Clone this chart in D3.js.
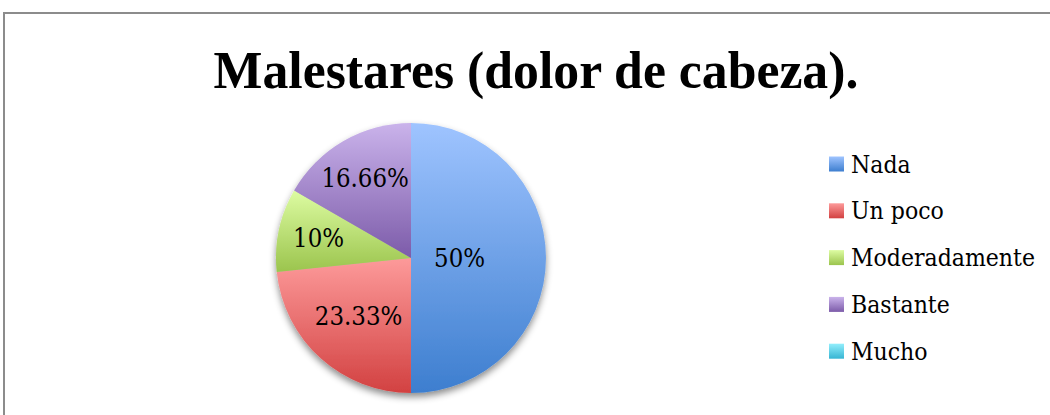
<!DOCTYPE html>
<html>
<head>
<meta charset="utf-8">
<script src="https://cdn.jsdelivr.net/npm/d3@7"></script>
<style>
  body { margin: 0; background: #fff; }
  svg { display: block; }
</style>
</head>
<body>
<svg id="chart"></svg>
<script>
const categories = ["Nada", "Un poco", "Moderadamente", "Bastante", "Mucho"];
const values = [50, 23.33, 10, 16.66, 0];
const labels = ["50%", "23.33%", "10%", "16.66%", "0%"];
const title = "Malestares (dolor de cabeza).";

// gradient top / bottom per slice
const colorTop = ["#9fc4ff", "#fd9a9a", "#ddfca2", "#cab3eb", "#92eefc"];
const colorBottom = ["#3d7ecf", "#d24141", "#9bc44d", "#7c5ba9", "#37b5d3"];

const svgWidth = 1050, svgHeight = 415;
const cx = 411, cy = 258, radius = 135;
// distance of each label from the centre, as a share of the radius
const labelPos = [0.36, 0.58, 0.70, 0.68, 0.6];

const svg = d3.select("#chart")
  .attr("width", svgWidth)
  .attr("height", svgHeight);

const defs = svg.append("defs");

categories.forEach((c, i) => {
  const g = defs.append("linearGradient")
    .attr("id", "grad" + i)
    .attr("x1", 0).attr("y1", 0)
    .attr("x2", 0).attr("y2", 1);
  g.append("stop").attr("offset", "0%").attr("stop-color", colorTop[i]);
  g.append("stop").attr("offset", "100%").attr("stop-color", colorBottom[i]);
});

const shadow = defs.append("filter")
  .attr("id", "shadow")
  .attr("x", "-20%").attr("y", "-20%")
  .attr("width", "140%").attr("height", "140%");
shadow.append("feDropShadow")
  .attr("dx", 0).attr("dy", 4)
  .attr("stdDeviation", 3.5)
  .attr("flood-color", "#000")
  .attr("flood-opacity", 0.45);

// chart frame
svg.append("rect")
  .attr("x", 4).attr("y", 13)
  .attr("width", svgWidth + 20)
  .attr("height", svgHeight + 20)
  .attr("fill", "none")
  .attr("stroke", "#8c8c8c")
  .attr("stroke-width", 2);

// fit a text element to a given width
function fitWidth(sel, target) {
  const w = sel.node().getComputedTextLength();
  const size = parseFloat(sel.style("font-size"));
  sel.style("font-size", (size * target / w) + "px");
}

// title
const titleText = svg.append("text")
  .attr("x", 536)
  .attr("y", 88)
  .attr("text-anchor", "middle")
  .style("font-family", "'Liberation Serif', serif")
  .style("font-weight", "bold")
  .style("font-size", "100px")
  .style("fill", "#000")
  .text(title);
fitWidth(titleText, 645);

const pie = d3.pie()
  .sort(null)
  .value(d => d.value);

const data = categories.map((c, i) => ({ name: c, value: values[i], label: labels[i], i }));
const arcs = pie(data).filter(d => d.data.value > 0);

const arc = d3.arc().innerRadius(0).outerRadius(radius);

const pieG = svg.append("g")
  .attr("transform", `translate(${cx},${cy})`);

pieG.append("g")
  .attr("filter", "url(#shadow)")
  .selectAll("path")
  .data(arcs)
  .enter()
  .append("path")
  .attr("d", arc)
  .attr("fill", d => `url(#grad${d.data.i})`);

pieG.selectAll(".label")
  .data(arcs)
  .enter()
  .append("text")
  .attr("class", "label")
  .attr("transform", d => {
    const a = (d.startAngle + d.endAngle) / 2;
    const r = radius * labelPos[d.data.i];
    return `translate(${Math.sin(a) * r},${-Math.cos(a) * r})`;
  })
  .attr("text-anchor", "middle")
  .attr("dy", "0.35em")
  .style("font-family", "'DejaVu Serif Condensed', 'DejaVu Serif', serif")
  .style("font-size", "25.5px")
  .style("fill", "#000")
  .text(d => d.data.label);

// legend
const legend = svg.append("g")
  .attr("transform", "translate(829,164)");

const row = legend.selectAll("g")
  .data(categories)
  .enter()
  .append("g")
  .attr("transform", (d, i) => `translate(0,${i * 46.8})`);

row.append("rect")
  .attr("x", 0).attr("y", -7.5)
  .attr("width", 15).attr("height", 15)
  .attr("fill", (d, i) => `url(#grad${i})`);

row.append("text")
  .attr("x", 22)
  .attr("dy", "0.35em")
  .style("font-family", "'DejaVu Serif Condensed', 'DejaVu Serif', serif")
  .style("font-size", "24.5px")
  .style("fill", "#000")
  .text(d => d);
</script>
</body>
</html>
